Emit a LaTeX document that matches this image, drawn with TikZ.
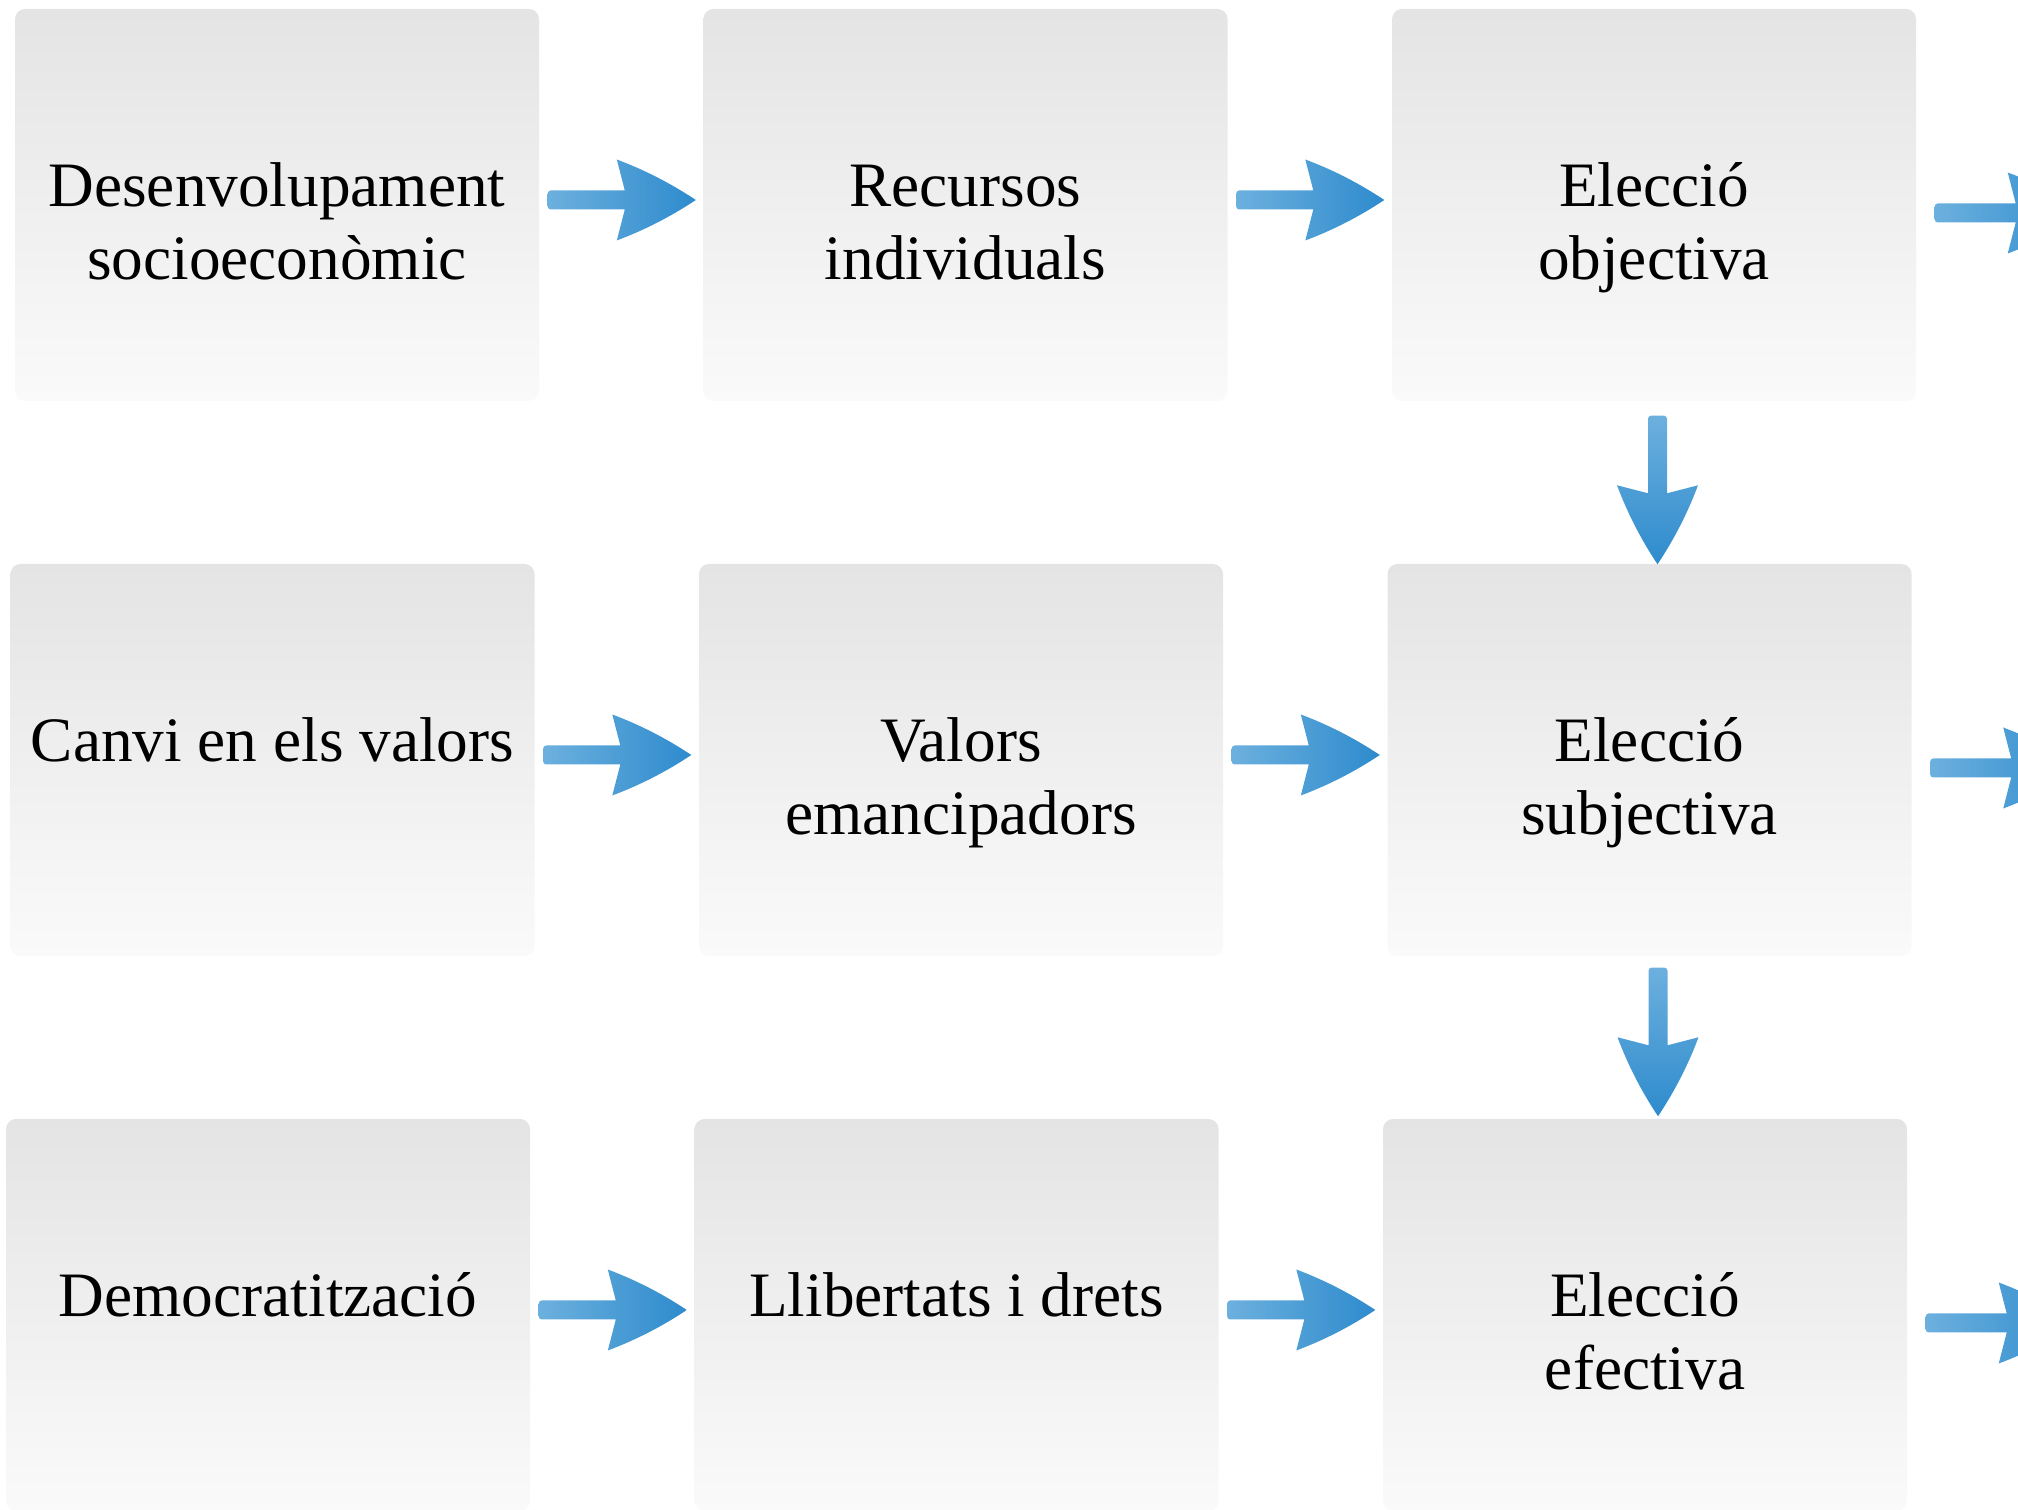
\documentclass[tikz,border=0pt]{standalone}
\usepackage{fontspec}
\setmainfont{Liberation Serif}
\usetikzlibrary{calc}

\definecolor{boxtop}{HTML}{E4E4E4}
\definecolor{boxbottom}{HTML}{FAFAFA}
\definecolor{arrowlight}{HTML}{6CB0DE}
\definecolor{arrowdark}{HTML}{2E8BCD}

\tikzset{
  stepbox/.style={rectangle, rounded corners=0.1cm, minimum width=5.24cm,
    minimum height=3.92cm, inner sep=0pt, draw=none,
    top color=boxtop, bottom color=boxbottom},
  steptext/.style={anchor=base, align=center, inner sep=0pt,
    font=\fontsize{18}{20.8}\selectfont},
  harrowfill/.style={left color=arrowlight, right color=arrowdark},
  varrowfill/.style={top color=arrowlight, bottom color=arrowdark}
}

% flow arrow from tail point #2 to tip point #3, filled with style #1
\newcommand{\flowarrow}[3][harrowfill]{%
  \path #2 coordinate (fa-tail) #3 coordinate (fa-tip);
  \pgfpointdiff{\pgfpointanchor{fa-tail}{center}}{\pgfpointanchor{fa-tip}{center}}%
  \pgfgetlastxy{\fadx}{\fady}%
  \pgfmathsetmacro{\falen}{veclen(\fadx,\fady)/28.45274}%
  \pgfmathsetmacro{\faang}{atan2(\fady,\fadx)}%
  \begin{scope}[shift={(fa-tail)}, rotate=\faang]
    \shade[#1] (0,0) [rounded corners=0.03cm] -- (0,0.095) [sharp corners]
      -- ({\falen-0.71},0.095) -- ({\falen-0.79},0.405)
      .. controls ({\falen-0.51},0.30) and ({\falen-0.25},0.166) .. (\falen,0)
      .. controls ({\falen-0.25},-0.166) and ({\falen-0.51},-0.30) .. ({\falen-0.79},-0.405)
      -- ({\falen-0.71},-0.095) [rounded corners=0.03cm] -- (0,-0.095) -- cycle;
  \end{scope}
}

\begin{document}
\begin{tikzpicture}
    \def\colstep{6.885} % horizontal distance between boxes
    \def\rowstep{5.55} % vertical distance between rows
    \def\rowshift{0.045} % each row sits a bit more to the left
    \def\linestep{0.733} % distance between two text lines

    \useasboundingbox (0,0) rectangle (20.18,15.10);
    \clip (0,0) rectangle (20.18,15.10);

    % Boxes and their texts (first line always at the same height)
    \foreach \row/\col/\id/\nl/\txt in
    {
        0/0/desenv/2/Desenvolupament\\socioeconòmic,
        0/1/recursos/2/Recursos\\individuals,
        0/2/elecobj/2/Elecció\\objectiva,
        1/0/canvi/1/Canvi en els valors,
        1/1/valors/2/Valors\\emancipadors,
        1/2/elecsub/2/Elecció\\subjectiva,
        2/0/democ/1/Democratització,
        2/1/llibert/1/Llibertats i drets,
        2/2/elecef/2/Elecció\\efectiva
    } {
    \node[stepbox] (\id) at ({2.77+\col*\colstep-\row*\rowshift},{13.05-\row*\rowstep}) {};
    \node[steptext] (\id-t) at ($(\id.north)+(0,{-1.98-(\nl-1)*\linestep})$) {\txt};
    }

    % Arrows along the rows
    \foreach \from/\to in {desenv/recursos, recursos/elecobj, canvi/valors,
        valors/elecsub, democ/llibert, llibert/elecef} {
    \flowarrow{($(\from.east)+(0.08,0.05)$)}{($(\to.west)+(-0.07,0.05)$)}
    }

    % Arrows leaving the picture on the right
    \foreach \id/\k in {elecobj/1, elecsub/2, elecef/3} {
    \coordinate (out\k) at ($(\id.east)+(1.70,-0.08)$);
    \flowarrow{($(\id.east)+(0.18,-0.08)$)}{(out\k)}
    }

    % Arrows down the last column
    \flowarrow[varrowfill]{($(elecobj.south)+(0.035,-0.14)$)}{($(elecsub.north)+(0.08,-0.01)$)}
    \flowarrow[varrowfill]{($(elecsub.south)+(0.085,-0.11)$)}{($(elecef.north)+(0.13,0.02)$)}
\end{tikzpicture}
\end{document}
